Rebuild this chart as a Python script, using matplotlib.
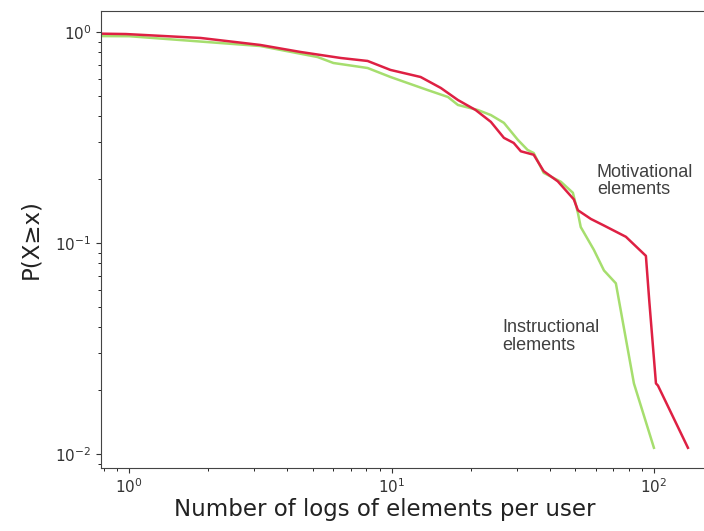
import numpy as np
import matplotlib
matplotlib.use('Agg')
import matplotlib.pyplot as plt

# motivational elements (red)
mot_x = [0.7, 0.97, 1.87, 3.16, 4.5, 6.4, 8.1, 9.9, 12.9, 15.4, 17.9, 20.9, 23.9,
         26.8, 29.2, 31.1, 34.8, 38.0, 43.0, 49.5, 51.3, 57.5, 64.5, 78.2, 93.2,
         96.0, 101.8, 103.6, 134.8]
mot_y = [0.984, 0.978, 0.937, 0.868, 0.804, 0.753, 0.729, 0.661, 0.612, 0.543,
         0.476, 0.427, 0.375, 0.315, 0.298, 0.272, 0.262, 0.219, 0.196, 0.161,
         0.143, 0.130, 0.121, 0.107, 0.0869, 0.0532, 0.0216, 0.0211, 0.0107]

# instructional elements (green)
ins_x = [0.7, 1.0, 3.16, 5.22, 6.0, 7.6, 8.1, 9.9, 13.7, 16.4, 17.9, 21.3, 23.9,
         26.8, 30.3, 33.0, 34.8, 38.0, 44.2, 49.1, 51.3, 52.6, 59.0, 64.5, 71.6,
         83.9, 100.0]
ins_y = [0.957, 0.955, 0.858, 0.761, 0.713, 0.683, 0.675, 0.612, 0.531, 0.492,
         0.451, 0.427, 0.404, 0.371, 0.308, 0.276, 0.267, 0.215, 0.195, 0.173,
         0.139, 0.119, 0.0929, 0.0741, 0.0644, 0.0216, 0.0107]

fig = plt.figure(figsize=(7.04, 5.31), dpi=100)
ax = fig.add_axes([101/704, 1-468/531, 620/704, (468-11)/531])

ax.plot(ins_x, ins_y, color='#a6de6e', lw=1.8)
ax.plot(mot_x, mot_y, color='#de2043', lw=1.8)

ax.set_xscale('log')
ax.set_yscale('log')
ax.set_xlim(0.78, 10**(2 + (720-653)/262))
ax.set_ylim(10**(-2 - 14/211), 10**(21/211))

ax.tick_params(labelsize=11, colors='#333333')
for s in ax.spines.values():
    s.set_color('#444444')
ax.spines['right'].set_visible(False)

ax.text(60.6, 0.197, 'Motivational\nelements', fontsize=13, color='#404040',
        family='Liberation Sans', va='center', ha='left', linespacing=1.05)
ax.text(26.5, 0.036, 'Instructional\nelements', fontsize=13, color='#404040',
        family='Liberation Sans', va='center', ha='left', linespacing=1.05)

ax.set_xlabel('Number of logs of elements per user', fontsize=16.5, color='#222222')
ax.set_ylabel('P(X≥x)', fontsize=16.5, color='#222222')
ax.xaxis.set_label_coords((385-101)/620, -0.065)
ax.yaxis.set_label_coords(-0.095, 0.5)

fig.savefig('out.png', dpi=100)
